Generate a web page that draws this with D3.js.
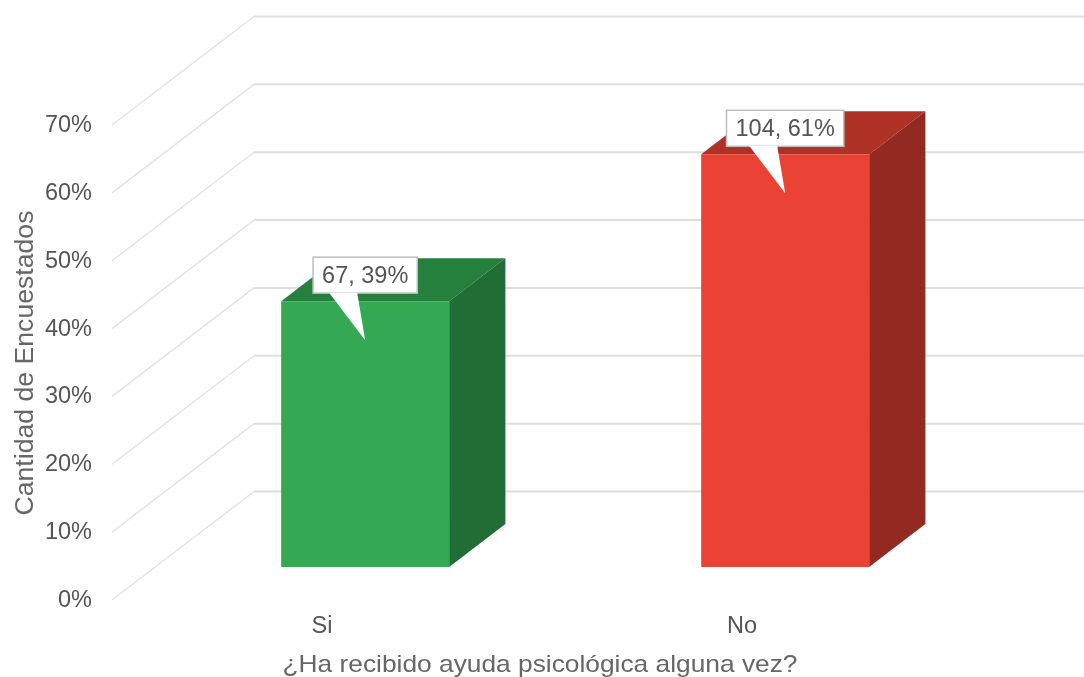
<!DOCTYPE html>
<html>
<head>
<meta charset="utf-8">
<script src="https://cdn.jsdelivr.net/npm/d3@7"></script>
<style>
  html, body { margin: 0; padding: 0; background: #fff; overflow: hidden; }
  text { font-family: "Liberation Sans", Arial, sans-serif; }
</style>
</head>
<body>
<div id="chart"></div>
<script>
var categories = ['Si', 'No'];
var counts = [67, 104];
var percent_labels = ['39%', '61%'];
var y_ticks = [0, 10, 20, 30, 40, 50, 60, 70];
var front_colors = ['#34a853', '#ea4335'];
var top_colors = ['#26803e', '#b03126'];
var side_colors = ['#206d34', '#922a20'];
var y_title = 'Cantidad de Encuestados';
var x_title = '¿Ha recibido ayuda psicológica alguna vez?';

var width = 1084,
    height = 677,
    total = d3.sum(counts);

var x = d3.scaleBand().domain(categories).range([112, 952]).paddingInner(0.6).paddingOuter(0.3),
    y = d3.scaleLinear().domain([0, 70]).range([600, 125]),
    // depth runs from the front of the floor (0) to the back wall (1)
    depth_x = d3.scaleLinear().domain([0, 1]).range([0, 142]),
    depth_y = d3.scaleLinear().domain([0, 1]).range([0, -108.5]),
    bar_front = 0.304,
    bar_back = 0.70;

var svg = d3.select('#chart').append('svg')
    .attr('width', width)
    .attr('height', height)
    .style('display', 'block');

var defs = svg.append('defs');
defs.append('filter').attr('id', 'soft')
    .append('feGaussianBlur').attr('stdDeviation', 0.5);

var focus = svg.append('g').attr('filter', 'url(#soft)');

// floor/wall grid
var grid = focus.append('g').attr('class', 'grid');
grid.selectAll('.wall-left')
    .data(y_ticks)
  .enter().append('line')
    .attr('class', 'wall-left')
    .attr('x1', x.range()[0])
    .attr('y1', function (d) { return y(d); })
    .attr('x2', x.range()[0] + depth_x(1))
    .attr('y2', function (d) { return y(d) + depth_y(1); })
    .attr('stroke', '#e2e2e2')
    .attr('stroke-width', 1.4);
grid.selectAll('.wall-back')
    .data(y_ticks)
  .enter().append('line')
    .attr('class', 'wall-back')
    .attr('x1', x.range()[0] + depth_x(1))
    .attr('y1', function (d) { return y(d) + depth_y(1); })
    .attr('x2', width)
    .attr('y2', function (d) { return y(d) + depth_y(1); })
    .attr('stroke', '#dedede')
    .attr('stroke-width', 2);

function pt (px, py, t) {
  return [px + depth_x(t), py + depth_y(t)];
}

function share (d) { return d / total * 100; }

var line = d3.line();

var bars = focus.selectAll('.bar')
    .data(counts)
  .enter().append('g')
    .attr('class', 'bar');

bars.append('path')
    .attr('fill', function (d, i) { return top_colors[i]; })
    .attr('d', function (d, i) {
      var l = x(categories[i]), r = l + x.bandwidth(), t = y(share(d));
      return line([pt(l, t, bar_front), pt(r, t, bar_front), pt(r, t, bar_back), pt(l, t, bar_back)]) + 'Z';
    });

bars.append('path')
    .attr('fill', function (d, i) { return side_colors[i]; })
    .attr('d', function (d, i) {
      var r = x(categories[i]) + x.bandwidth(), t = y(share(d)), b = y(0);
      return line([pt(r, t, bar_front), pt(r, t, bar_back), pt(r, b, bar_back), pt(r, b, bar_front)]) + 'Z';
    });

bars.append('path')
    .attr('fill', function (d, i) { return front_colors[i]; })
    .attr('d', function (d, i) {
      var l = x(categories[i]), r = l + x.bandwidth(), t = y(share(d)), b = y(0);
      return line([pt(l, t, bar_front), pt(r, t, bar_front), pt(r, b, bar_front), pt(l, b, bar_front)]) + 'Z';
    });

// callouts, centred over the tip
var notes = focus.selectAll('.note')
    .data(counts)
  .enter().append('g')
    .attr('class', 'note')
    .attr('transform', function (d, i) {
      var tip = pt(x(categories[i]) + x.bandwidth() / 2, y(share(d)) + 39, bar_front);
      return 'translate(' + tip[0] + ',' + tip[1] + ')';
    });

notes.append('text')
    .attr('class', 'note-label')
    .attr('text-anchor', 'middle')
    .attr('y', -57)
    .attr('font-size', 23.5)
    .attr('fill', '#555')
    .text(function (d, i) { return d + ', ' + percent_labels[i]; });

notes.insert('rect', 'text')
    .attr('x', function () { return -this.parentNode.querySelector('text').getComputedTextLength() / 2 - 9; })
    .attr('y', -83)
    .attr('width', function () { return this.parentNode.querySelector('text').getComputedTextLength() + 18; })
    .attr('height', 36)
    .attr('fill', '#fff')
    .attr('stroke', '#bdbdbd')
    .attr('stroke-width', 1.5);

notes.insert('path', 'text')
    .attr('d', 'M-36,-47.5L0,0L-8,-47.5Z')
    .attr('fill', '#fff');

// axes
var yAxis = d3.axisLeft(y)
    .tickValues(y_ticks)
    .tickSize(0)
    .tickPadding(0)
    .tickFormat(function (e) { return e + '%'; });

var gy = focus.append('g')
    .attr('class', 'y axis')
    .attr('transform', 'translate(92,-1)')
    .call(yAxis);
gy.select('.domain').remove();
gy.selectAll('text')
    .attr('font-size', 23.5)
    .attr('fill', '#555')
    .style('font-family', '"Liberation Sans", Arial, sans-serif');

var xAxis = d3.axisBottom(x)
    .tickSize(0)
    .tickPadding(0);

var gx = focus.append('g')
    .attr('class', 'x axis')
    .attr('transform', 'translate(0,616)')
    .call(xAxis);
gx.select('.domain').remove();
gx.selectAll('text')
    .attr('font-size', 23.5)
    .attr('fill', '#555')
    .style('font-family', '"Liberation Sans", Arial, sans-serif');

// the reference title is wider than its height suggests, so stretch it to fit
focus.append('text')
    .attr('x', 540)
    .attr('y', 671.5)
    .attr('text-anchor', 'middle')
    .attr('font-size', 24)
    .attr('textLength', 515)
    .attr('lengthAdjust', 'spacingAndGlyphs')
    .attr('fill', '#666')
    .text(x_title);

focus.append('text')
    .attr('transform', 'translate(33,363) rotate(-90)')
    .attr('text-anchor', 'middle')
    .attr('font-size', 25)
    .attr('textLength', 305)
    .attr('lengthAdjust', 'spacingAndGlyphs')
    .attr('fill', '#666')
    .text(y_title);
</script>
</body>
</html>
